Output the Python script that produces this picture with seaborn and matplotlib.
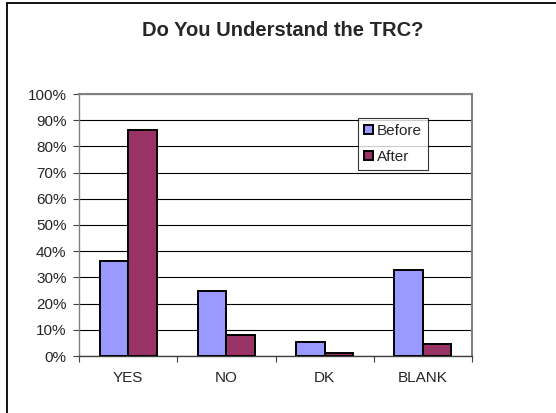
import matplotlib
matplotlib.use("Agg")
import matplotlib.pyplot as plt
from matplotlib.lines import Line2D
from matplotlib.ticker import FixedLocator, PercentFormatter
import seaborn as sns
import pandas as pd

categories = ["YES", "NO", "DK", "BLANK"]
before = [36.4, 24.9, 5.5, 32.8]
after = [86.1, 8.0, 1.1, 4.6]
series_names = ["Before", "After"]
colors = {"Before": "#9999FF", "After": "#993366"}

df = pd.DataFrame({
    "answer": categories * 2,
    "share": before + after,
    "when": [series_names[0]] * len(categories) + [series_names[1]] * len(categories),
})

sns.set_style("white")
plt.rcParams["font.family"] = ["Liberation Sans", "DejaVu Sans"]

fig = plt.figure(figsize=(5.56, 4.13), dpi=100)
ax = fig.add_axes([79 / 556, 57 / 413, 393 / 556, 262 / 413])

sns.barplot(data=df, x="answer", y="share", hue="when", order=categories,
            hue_order=series_names, palette=colors, width=0.58, gap=0,
            edgecolor="black", linewidth=1.4, saturation=1, ax=ax, zorder=3)

ax.set_ylim(0, 100)
ax.set_xlim(-0.5, len(categories) - 0.5)
ax.yaxis.set_major_locator(FixedLocator(range(0, 101, 10)))
ax.yaxis.set_major_formatter(PercentFormatter(decimals=0))
ax.grid(axis="y", color="black", linewidth=0.8, zorder=0)
ax.set_axisbelow(True)

# category boundaries get ticks, category centres get labels
ax.xaxis.set_major_locator(FixedLocator([i - 0.5 for i in range(len(categories) + 1)]))
ax.xaxis.set_minor_locator(FixedLocator(range(len(categories))))
ax.set_xticklabels([], minor=False)
ax.set_xticklabels(categories, minor=True)
ax.tick_params(axis="x", which="major", length=4, width=0.8, color="#404040", direction="out", bottom=True)
ax.tick_params(axis="x", which="minor", length=0, pad=11, labelsize=11)
ax.tick_params(axis="y", length=4, width=0.8, color="#404040", direction="out", left=True, pad=5, labelsize=11)

for side in ("top", "right"):
    ax.spines[side].set_color("#808080")
    ax.spines[side].set_linewidth(1.5)
ax.spines["left"].set_color("#808080")
ax.spines["left"].set_linewidth(1.0)
ax.spines["bottom"].set_color("#404040")
ax.spines["bottom"].set_linewidth(1.0)

ax.set_xlabel("")
ax.set_ylabel("")

leg = ax.legend(loc="upper left", bbox_to_anchor=((358 - 79) / 393, (356 - 118) / 262),
                frameon=True, fancybox=False, edgecolor="black", fontsize=11,
                handlelength=0.55, handleheight=0.55, handletextpad=0.3,
                labelspacing=0.75, borderpad=0.4, borderaxespad=0)
leg.get_frame().set_linewidth(0.8)
for h in leg.legend_handles:
    h.set_edgecolor("black")
    h.set_linewidth(1.4)

fig.suptitle("Do You Understand the TRC?", x=283 / 556, y=1 - 30 / 413, va="center",
             fontsize=14.5, fontweight="bold")

# chart-area border
fig.add_artist(Line2D([7 / 556, 7 / 556], [0, 1 - 3 / 413], transform=fig.transFigure,
                      color="black", linewidth=1.3))
fig.add_artist(Line2D([7 / 556, 1], [1 - 3 / 413, 1 - 3 / 413], transform=fig.transFigure,
                      color="black", linewidth=1.3))

fig.savefig("out.png", dpi=100)
